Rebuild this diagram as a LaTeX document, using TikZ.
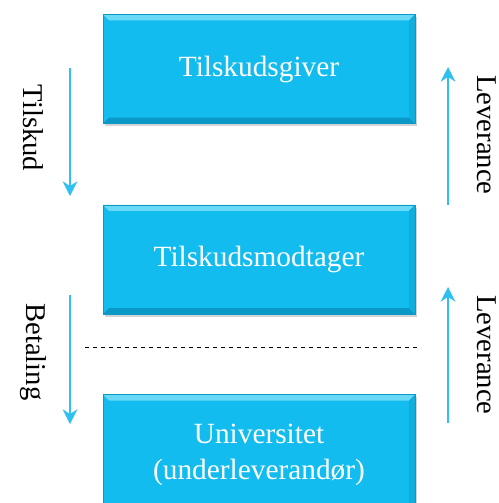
\documentclass[tikz,border=0pt]{standalone}
\usepackage{fontspec}
\setmainfont{Liberation Serif}
\usetikzlibrary{positioning,arrows.meta,shadows}
\definecolor{boxcyan}{HTML}{12BCEE}
\definecolor{bevlight}{HTML}{6AD9F7}
\definecolor{bevdark}{HTML}{0A98C6}
\definecolor{bevside}{HTML}{0FAEDD}
\definecolor{flowblue}{HTML}{2EC0F0}
\tikzset{
  party/.style={draw=bevdark, line width=0.4pt, fill=boxcyan, text=white,
    minimum width=234pt, minimum height=82pt, align=center,
    font=\fontsize{22}{27}\selectfont,
    drop shadow={opacity=0.35, shadow xshift=1.5pt, shadow yshift=-2pt},
    path picture={
      \fill[bevlight] (path picture bounding box.north west) -- (path picture bounding box.north east)
        -- ([xshift=-4.5pt,yshift=-4.5pt]path picture bounding box.north east)
        -- ([xshift=4.5pt,yshift=-4.5pt]path picture bounding box.north west) -- cycle;
      \fill[bevdark] (path picture bounding box.south west) -- (path picture bounding box.south east)
        -- ([xshift=-4.5pt,yshift=4.5pt]path picture bounding box.south east)
        -- ([xshift=4.5pt,yshift=4.5pt]path picture bounding box.south west) -- cycle;
      \fill[bevside] (path picture bounding box.north east) -- (path picture bounding box.south east)
        -- ([xshift=-4.5pt,yshift=4.5pt]path picture bounding box.south east)
        -- ([xshift=-4.5pt,yshift=-4.5pt]path picture bounding box.north east) -- cycle;
    }},
  flow/.style={draw=flowblue, line width=1.1pt, -{Stealth[length=11pt,width=11pt]}},
  flowlabel/.style={rotate=-90, font=\fontsize{21.5}{26}\selectfont}
}

\begin{document}
\begin{tikzpicture}[x=0.75pt,y=-0.75pt]
\useasboundingbox (0,0) rectangle (499,503);

% the three parties
\node[party] (giver) at (259,69) {Tilskudsgiver};
\node[party, below=60.5pt of giver] (modtager) {Tilskudsmodtager};
\node[party, below=60pt of modtager, minimum height=90pt] (uni) {Universitet\\(underleverandør)};

% split between grant and sub-delivery
\coordinate (split w) at (85,347);
\coordinate (split e) at (421,347);
\draw[dashed, line width=0.6pt] (split w) -- (split e);

% money flows down on the left
\coordinate (tilskud top) at (70,68);
\coordinate (tilskud bot) at (70,196);
\coordinate (betal top) at (70,295);
\coordinate (betal bot) at (70,424);
\draw[flow] (tilskud top) -- (tilskud bot);
\draw[flow] (betal top) -- (betal bot);
\node[flowlabel] (l1) at (33,128) {Tilskud};
\node[flowlabel] (l2) at (33,352) {Betaling};

% deliveries flow up on the right
\coordinate (lev1 bot) at (448,205);
\coordinate (lev1 top) at (448,67);
\coordinate (lev2 bot) at (448,423);
\coordinate (lev2 top) at (448,287);
\draw[flow] (lev1 bot) -- (lev1 top);
\draw[flow] (lev2 bot) -- (lev2 top);
\node[flowlabel] (r1) at (487,135) {Leverance};
\node[flowlabel] (r2) at (487,355) {Leverance};

\end{tikzpicture}
\end{document}
